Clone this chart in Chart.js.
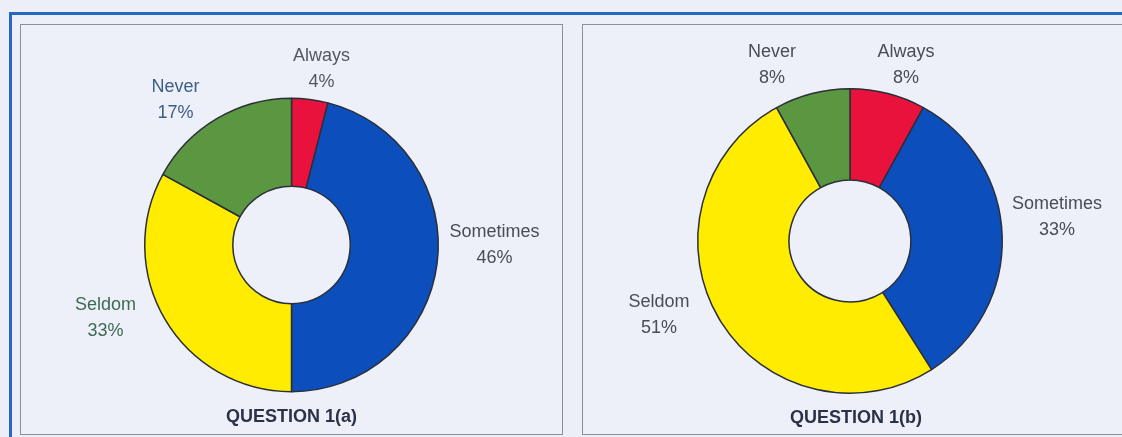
<!DOCTYPE html>
<html>
<head>
<meta charset="utf-8">
<script src="https://cdn.jsdelivr.net/npm/chart.js@4/dist/chart.umd.min.js"></script>
<style>
    html, body {
        margin: 0;
        width: 1122px;
        height: 437px;
        overflow: hidden;
        background: #eceef8;
    }
    .frame {
        position: absolute;
        left: 9px;
        top: 12px;
        width: 1200px;
        height: 500px;
        border-top: 3px solid #2468c6;
        border-left: 3px solid #2468c6;
    }
    .panel {
        position: absolute;
        top: 24px;
        border: 1px solid #8e8e94;
        background: #eef0f9;
    }
    #panelA { left: 20px; width: 541px; height: 409px; }
    #panelB { left: 582px; width: 600px; height: 409px; }
    canvas { position: absolute; left: 0; top: 0; }
</style>
</head>
<body>
<div class="frame"></div>
<div class="panel" id="panelA"><canvas id="chartA" width="541" height="409"></canvas></div>
<div class="panel" id="panelB"><canvas id="chartB" width="539" height="409"></canvas></div>

<script>
// answer categories, clockwise from the top
var categories = ["Always", "Sometimes", "Seldom", "Never"];
// percentages per question
var question1a = [4, 46, 33, 17];
var question1b = [8, 33, 51, 8];
var titles = ["QUESTION 1(a)", "QUESTION 1(b)"];

var sliceColors = ["#e8123c", "#0c4fbc", "#ffec00", "#5b9640"];

// label placement around each donut: offset from the donut centre
var labelOffsetA = [[30, -176], [203, 0], [-186, 73], [-116, -145]];
var labelOffsetB = [[56, -176], [207, -24], [-191, 74], [-78, -176]];
var labelColorA = ["#55585e", "#4a4d52", "#3d6a52", "#3b5f86"];
var labelColorB = ["#4a4d52", "#4a4d52", "#4a4d52", "#4a4d52"];

var FONT = "Liberation Sans, Arial, sans-serif";

// writes "Name / NN%" next to each slice and the title below the ring
var sliceLabels = {
    id: "sliceLabels",
    afterDraw: function (chart) {
        var ctx = chart.ctx;
        var opts = chart.options.plugins.sliceLabels;
        var arc = chart.getDatasetMeta(0).data[0];
        var cx = arc.x, cy = arc.y;
        var values = chart.data.datasets[0].data;

        ctx.save();
        ctx.textAlign = "center";
        ctx.textBaseline = "middle";
        ctx.font = "18px " + FONT;
        for (var i = 0; i < values.length; i++) {
            var x = cx + opts.offsets[i][0];
            var y = cy + opts.offsets[i][1];
            ctx.fillStyle = opts.colors[i];
            ctx.fillText(opts.names[i], x, y - 13);
            ctx.fillText(values[i] + "%", x, y + 13);
        }
        ctx.font = "bold 18px " + FONT;
        ctx.fillStyle = "#2b3147";
        ctx.fillText(opts.title, cx + opts.titleShift, cy + arc.outerRadius + 25);
        ctx.restore();
    }
};

function makeDonut(id, values, offsets, colors, title, padding, titleShift) {
    return new Chart(document.getElementById(id), {
        type: "doughnut",
        data: {
            labels: categories,
            datasets: [{
                data: values,
                backgroundColor: sliceColors,
                borderColor: "#2a2f3a",
                borderWidth: 1.5
            }]
        },
        options: {
            responsive: false,
            animation: false,
            cutout: "40%",
            layout: { padding: padding },
            plugins: {
                legend: { display: false },
                tooltip: { enabled: false },
                sliceLabels: {
                    names: categories,
                    offsets: offsets,
                    colors: colors,
                    title: title,
                    titleShift: titleShift
                }
            }
        },
        plugins: [sliceLabels]
    });
}

makeDonut("chartA", question1a, labelOffsetA, labelColorA, titles[0],
    { left: 123, right: 123, top: 72, bottom: 41 }, 0);
makeDonut("chartB", question1b, labelOffsetB, labelColorB, titles[1],
    { left: 114, right: 119, top: 63, bottom: 40 }, 6);
</script>
</body>
</html>
